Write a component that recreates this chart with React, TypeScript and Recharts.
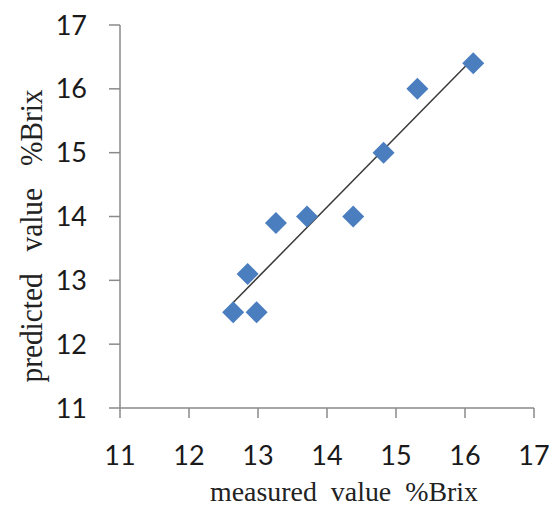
import React from "react";
import { ScatterChart, Scatter, XAxis, YAxis, Label } from "recharts";

// measured (x) and predicted (y) %Brix values
const measured = [12.64, 12.98, 12.85, 13.26, 13.71, 14.38, 14.82, 15.31, 16.12];
const predicted = [12.5, 12.5, 13.1, 13.9, 14.0, 14.0, 15.0, 16.0, 16.4];
// trend line end points
const trendMeasured = [12.63, 16.12];
const trendPredicted = [12.64, 16.48];
// axis ticks
const xTicks = [11, 12, 13, 14, 15, 16, 17];
const yTicks = [11, 12, 13, 14, 15, 16, 17];

const points = measured.map((x, i) => ({ x, y: predicted[i] }));
const trend = trendMeasured.map((x, i) => ({ x, y: trendPredicted[i] }));

const AXIS = "#8a8a8a";
const TICK_FONT = { fontFamily: "Lato", fontSize: 27, fill: "#1a1a1a" };

const Diamond = (props: any) => {
  const { cx, cy } = props;
  const r = 11;
  return (
    <path
      d={`M${cx},${cy - r}L${cx + r},${cy}L${cx},${cy + r}L${cx - r},${cy}Z`}
      fill="#4a7ebf"
    />
  );
};

const XTitle = (props: any) => {
  const vb = props.viewBox || { x: 120, y: 408, width: 414, height: 100 };
  return (
    <text
      x={vb.x + vb.width / 2 + 17}
      y={vb.y + 93}
      textAnchor="middle"
      fontFamily="'Liberation Serif', 'Times New Roman', serif"
      fontSize={27}
      fill="#222"
      textLength={268}
      lengthAdjust="spacingAndGlyphs"
    >
      {"measured\u00A0\u00A0value\u00A0\u00A0%Brix"}
    </text>
  );
};

const YTitle = (props: any) => {
  const vb = props.viewBox || { x: 0, y: 25, width: 120, height: 383 };
  const cx = vb.x + 42;
  const cy = vb.y + vb.height / 2 + 19.5;
  return (
    <text
      x={cx}
      y={cy}
      transform={`rotate(-90, ${cx}, ${cy})`}
      textAnchor="middle"
      fontFamily="'Liberation Serif', 'Times New Roman', serif"
      fontSize={32}
      fill="#222"
      textLength={293}
      lengthAdjust="spacingAndGlyphs"
    >
      {"predicted\u00A0\u00A0\u00A0value\u00A0\u00A0\u00A0%Brix"}
    </text>
  );
};

export default function App() {
  return (
    <div style={{ position: "absolute", left: 0, top: 0, width: 553, height: 508, background: "#fff" }}>
      <ScatterChart width={553} height={508} margin={{ top: 25, right: 19, bottom: 0, left: 0 }}>
        <XAxis
          type="number"
          dataKey="x"
          domain={[11, 17]}
          ticks={xTicks}
          interval={0}
          height={100}
          tickSize={10}
          tickMargin={28}
          stroke={AXIS}
          strokeWidth={1.5}
          tick={TICK_FONT}
          allowDataOverflow
        >
          <Label content={<XTitle />} />
        </XAxis>
        <YAxis
          type="number"
          dataKey="y"
          domain={[11, 17]}
          ticks={yTicks}
          interval={0}
          width={120}
          tickSize={11}
          tickMargin={22}
          stroke={AXIS}
          strokeWidth={1.5}
          tick={TICK_FONT}
          allowDataOverflow
        >
          <Label content={<YTitle />} />
        </YAxis>
        <Scatter
          data={trend}
          line={{ stroke: "#3a3a3a", strokeWidth: 1.5 }}
          shape={() => <g />}
          isAnimationActive={false}
        />
        <Scatter data={points} shape={Diamond} isAnimationActive={false} />
      </ScatterChart>
    </div>
  );
}
